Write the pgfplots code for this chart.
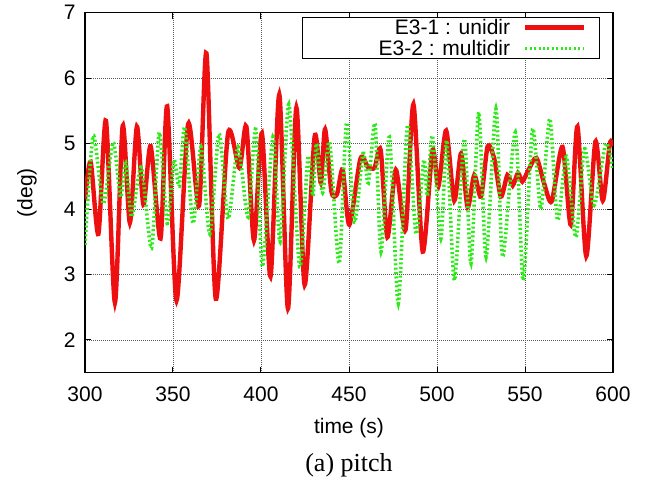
\documentclass[border=0pt]{standalone}
\usepackage{fontspec}
\setmainfont{Liberation Sans}
\newfontfamily\capfont{Liberation Serif}
\usepackage{pgfplots}
\pgfplotsset{compat=1.18}

\definecolor{unired}{RGB}{238,16,16}
\definecolor{multigreen}{RGB}{45,235,25}

\begin{document}
\begin{tikzpicture}
\useasboundingbox (-85pt,-118.3pt) rectangle (561pt,372.7pt);
\begin{axis}[
  at={(0pt,0pt)}, anchor=south west,
  scale only axis, width=528pt, height=360pt,
  xmin=300, xmax=600, ymin=1.5, ymax=7,
  xtick={300,350,...,600}, ytick={2,3,...,7},
  /pgf/number format/assume math mode=true,
  /pgf/number format/1000 sep={},
  tick label style={font=\fontsize{21}{25}\selectfont},
  xticklabel style={yshift=-11pt},
  yticklabel style={xshift=-6pt},
  xlabel={time (s)}, ylabel={(deg)},
  every axis x label/.style={at={(axis description cs:0.5,-0.155)}, anchor=center,
    font=\fontsize{21}{25}\selectfont},
  every axis y label/.style={at={(axis description cs:-0.11,0.5)}, anchor=center, rotate=90,
    font=\fontsize{21}{25}\selectfont},
  axis line style={black, line width=1.5pt},
  tick align=inside, major tick length=6pt,
  tick style={black, line width=1pt},
  grid=major,
  major grid style={black!65, line width=0.8pt, dash pattern=on 0.8pt off 1.2pt},
  legend plot pos=right,
  legend image code/.code={\draw[#1] (0pt,0pt) -- (59pt,0pt);},
  legend style={draw=black, line width=1pt, fill=white,
    at={(axis description cs:0.9754,0.988)}, anchor=north east,
    font=\fontsize{21}{25}\selectfont,
    inner xsep=13pt, inner ysep=1.5pt,
    nodes={inner sep=0pt, text depth=0.15em},
    column sep=13pt, row sep=4.5pt},
]

% E3-1 : unidirectional waves
\addplot[unired, line width=4.4pt, smooth, tension=0.45] coordinates {
(300,4.15) (303.2,4.72) (307.6,3.62) (311.9,5.35) (317,2.57) (321.4,5.27)
(325.5,3.79) (329.5,5.26) (333.2,4.07) (337.3,4.96) (342.9,3.55) (346.7,5.57)
(352,2.6) (358.6,5.3) (364.8,4.05) (369,6.38) (374.3,2.63) (381.3,5.16)
(387.7,4.63) (391.7,5.26) (396,3.52) (400.5,5.16) (405.4,2.97) (410.4,5.75)
(415.3,2.48) (420.1,5.55) (424.8,2.84) (430.5,5.11) (434,4.4) (436.4,5.22)
(440,4.27) (443.2,4.23) (446.4,4.6) (450.2,3.76) (456.5,4.77) (460.8,4.64)
(464.5,4.63) (468,4.9) (471.8,3.57) (476.6,4.6) (482.1,3.68) (486.6,5.6)
(491.9,3.35) (497.4,4.9) (500.8,4.35) (505.2,5.2) (509.8,4.13) (513.7,4.85)
(517.4,4.03) (521.2,4.52) (525,4.19) (528.8,4.96) (532.6,4.76) (536.3,4.19)
(540,4.52) (543,4.36) (546,4.55) (548.5,4.42) (552,4.6) (556.5,4.78)
(561,4.38) (565.2,4.12) (571.3,4.95) (576,3.76) (579.8,5.26) (584.8,3.28)
(590,5.03) (594.2,4.13) (598.2,5.0) (600,4.96)
};
\addlegendentry{\makebox[195pt][r]{E3-1 : unidir}}

% E3-2 : multidirectional waves
\addplot[multigreen, line width=3.6pt, dash pattern=on 2pt off 2.4pt, smooth, tension=0.45] coordinates {
(300,3.45) (304.7,5.12) (310.4,4.08) (316,5.02) (320.2,4.18) (323.2,4.7)
(326.5,3.88) (332,4.64) (337.8,3.4) (342.2,5.17) (346.7,3.78) (350.5,4.75)
(353.5,4.35) (356.7,5.25) (361.4,3.78) (365.9,4.95) (370.9,3.62) (376.2,5.15)
(381.3,3.85) (387,4.95) (392.6,3.88) (397,5.22) (400.8,3.12) (406.8,5.1)
(410.8,3.5) (415.8,5.6) (422,3.12) (426.7,4.8) (429.5,4.2) (431.5,5.0)
(435,4.25) (439,5.02) (444.4,3.17) (448.6,5.32) (453.1,3.8) (458,4.85)
(461,4.4) (464.8,5.3) (468.2,3.35) (473,5.1) (478,2.56) (483.2,5.28)
(488.1,3.62) (492.5,4.75) (494.5,4.2) (497.4,5.12) (502.2,3.55) (505.5,5.05)
(509.9,2.91) (515.5,5.07) (519.3,3.17) (523.7,5.48) (527.9,3.27) (533.5,5.53)
(537.3,3.27) (544.5,5.17) (549,2.91) (554.3,5.22) (559,4.0) (564.1,5.38)
(568.5,3.83) (573.5,4.8) (578.9,3.57) (583.8,4.92) (589.3,4.06) (595.9,5.0)
(600,4.6)
};
\addlegendentry{\makebox[195pt][r]{E3-2 : multidir}}

\end{axis}
\node[font=\capfont\fontsize{26}{30}\selectfont, anchor=center] at (264pt,-93pt) {(a) pitch};
\end{tikzpicture}
\end{document}
